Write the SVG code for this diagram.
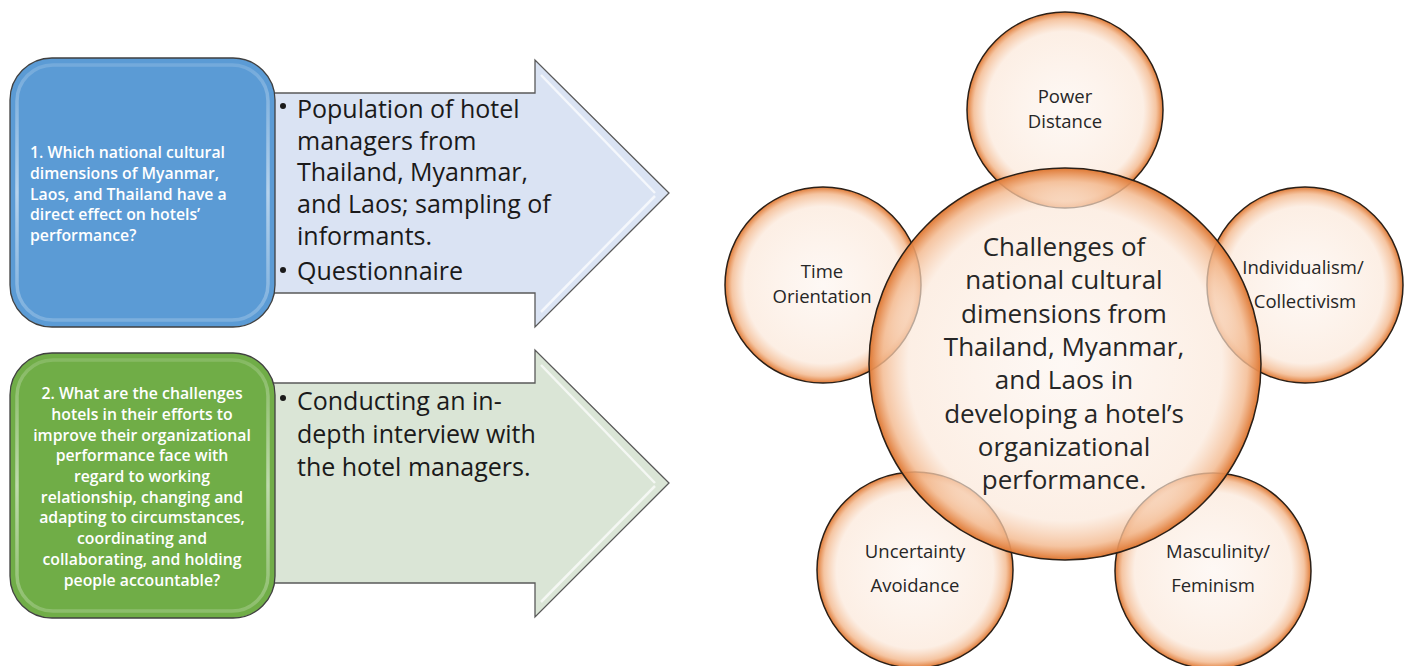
<svg xmlns="http://www.w3.org/2000/svg" width="1409" height="666" viewBox="0 0 1409 666">
  <defs>
    <radialGradient id="bubble" cx="0.5" cy="0.5" r="0.5">
      <stop offset="0" stop-color="#FDF4EE" stop-opacity="0.6"/>
      <stop offset="0.8" stop-color="#FBE7D8" stop-opacity="0.68"/>
      <stop offset="0.93" stop-color="#F3B88D" stop-opacity="0.82"/>
      <stop offset="1" stop-color="#DF7833" stop-opacity="1"/>
    </radialGradient>
    <linearGradient id="bevelV" x1="0" y1="0" x2="0" y2="1">
      <stop offset="0" stop-color="#ffffff" stop-opacity="0.15"/>
      <stop offset="0.5" stop-color="#ffffff" stop-opacity="0.55"/>
      <stop offset="1" stop-color="#ffffff" stop-opacity="0.2"/>
    </linearGradient>
  </defs>
  <style>
    .card { stroke: #404040; stroke-width: 1.3; }
    .blue { fill: #5B9BD5; }
    .green { fill: #70AD47; }
    .bevel { fill: none; stroke: url(#bevelV); stroke-width: 3.5; }
    .arrow { stroke: #595959; stroke-width: 1.3; stroke-linejoin: miter; }
    .arrowBlue { fill: #DAE3F3; }
    .arrowGreen { fill: #DAE5D6; }
    .shine { fill: none; stroke: #ffffff; stroke-opacity: 0.7; stroke-width: 2.5; }
    .q { font-family: "Open Sans", "Liberation Sans", sans-serif; font-size: 15.8px; font-weight: 600; fill: #ffffff; }
    .item { font-family: "Open Sans", "Liberation Sans", sans-serif; font-size: 25px; fill: #1a1a1a; }
    .bullet { fill: #1a1a1a; }
    .bub { fill: url(#bubble); stroke: #2b2018; stroke-width: 1.5; }
    .core { font-family: "Open Sans", "Liberation Sans", sans-serif; font-size: 26px; fill: #262626; text-anchor: middle; }
    .dim { font-family: "Open Sans", "Liberation Sans", sans-serif; font-size: 18.5px; fill: #262626; text-anchor: middle; }
  </style>

  <!-- method arrows (drawn first so the question cards sit on top) -->
  <g id="method-1">
    <path class="arrow arrowBlue" d="M262,93 H535 V60 L669,193 L535,327 V293 H262 Z"/>
    <path class="shine" d="M541,75 L655,193 M541,312 L655,196"/>
    <circle class="bullet" cx="283" cy="106" r="3"/>
    <text class="item" x="297" y="118">Population of hotel</text>
    <text class="item" x="297" y="150">managers from</text>
    <text class="item" x="297" y="181">Thailand, Myanmar,</text>
    <text class="item" x="297" y="213">and Laos; sampling of</text>
    <text class="item" x="297" y="245">informants.</text>
    <circle class="bullet" cx="283" cy="270" r="3"/>
    <text class="item" x="297" y="280">Questionnaire</text>
  </g>

  <g id="method-2">
    <path class="arrow arrowGreen" d="M262,383 H535 V350 L669,483 L535,617 V583 H262 Z"/>
    <path class="shine" d="M541,365 L655,483 M541,602 L655,486"/>
    <circle class="bullet" cx="283" cy="398" r="3"/>
    <text class="item" x="297" y="410">Conducting an in-</text>
    <text class="item" x="297" y="443">depth interview with</text>
    <text class="item" x="297" y="476">the hotel managers.</text>
  </g>

  <!-- research question cards -->
  <g id="question-1">
    <rect class="card blue" x="10" y="58" width="265" height="269" rx="42"/>
    <rect class="bevel" x="17" y="65" width="251" height="255" rx="36"/>
    <text class="q" x="30" y="158">1. Which national cultural</text>
    <text class="q" x="30" y="179">dimensions of Myanmar,</text>
    <text class="q" x="30" y="200">Laos, and Thailand have a</text>
    <text class="q" x="30" y="220">direct effect on hotels’</text>
    <text class="q" x="30" y="241">performance?</text>
  </g>

  <g id="question-2">
    <rect class="card green" x="10" y="353" width="265" height="265" rx="42"/>
    <rect class="bevel" x="17" y="360" width="251" height="251" rx="36"/>
    <g text-anchor="middle">
      <text class="q" x="142" y="399">2. What are the challenges</text>
      <text class="q" x="142" y="420">hotels in their efforts to</text>
      <text class="q" x="142" y="441">improve their organizational</text>
      <text class="q" x="142" y="461">performance face with</text>
      <text class="q" x="142" y="482">regard to working</text>
      <text class="q" x="142" y="503">relationship, changing and</text>
      <text class="q" x="142" y="523">adapting to circumstances,</text>
      <text class="q" x="142" y="544">coordinating and</text>
      <text class="q" x="142" y="565">collaborating, and holding</text>
      <text class="q" x="142" y="586">people accountable?</text>
    </g>
  </g>

  <!-- cultural dimension bubbles around the central challenge -->
  <g id="power-distance">
    <circle class="bub" cx="1065" cy="110" r="98"/>
    <text class="dim" x="1065" y="103">Power</text>
    <text class="dim" x="1065" y="128">Distance</text>
  </g>
  <g id="time-orientation">
    <circle class="bub" cx="823" cy="285" r="98"/>
    <text class="dim" x="822" y="278">Time</text>
    <text class="dim" x="822" y="303">Orientation</text>
  </g>
  <g id="individualism">
    <circle class="bub" cx="1305" cy="285" r="98"/>
    <text class="dim" x="1303" y="274">Individualism/</text>
    <text class="dim" x="1305" y="308">Collectivism</text>
  </g>
  <g id="uncertainty-avoidance">
    <circle class="bub" cx="915" cy="570" r="98"/>
    <text class="dim" x="915" y="558">Uncertainty</text>
    <text class="dim" x="915" y="592">Avoidance</text>
  </g>
  <g id="masculinity">
    <circle class="bub" cx="1213" cy="571" r="98"/>
    <text class="dim" x="1218" y="558">Masculinity/</text>
    <text class="dim" x="1213" y="592">Feminism</text>
  </g>

  <g id="challenges">
    <circle class="bub" cx="1065" cy="364" r="196"/>
    <text class="core" x="1064" y="256">Challenges of</text>
    <text class="core" x="1064" y="289">national cultural</text>
    <text class="core" x="1064" y="323">dimensions from</text>
    <text class="core" x="1064" y="356">Thailand, Myanmar,</text>
    <text class="core" x="1064" y="389">and Laos in</text>
    <text class="core" x="1064" y="423">developing a hotel’s</text>
    <text class="core" x="1064" y="456">organizational</text>
    <text class="core" x="1064" y="489">performance.</text>
  </g>
</svg>
